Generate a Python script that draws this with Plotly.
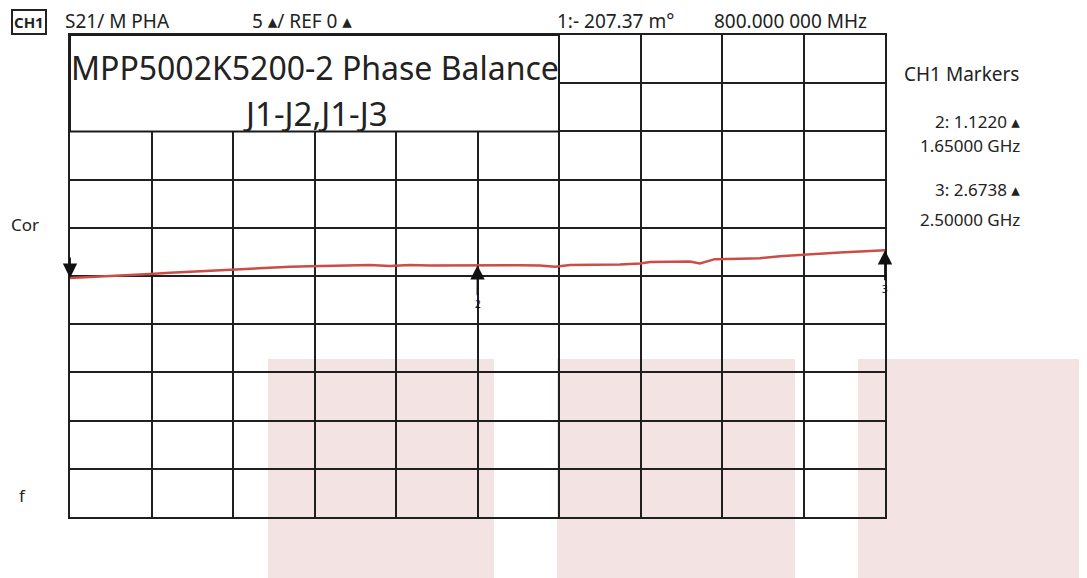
import plotly.graph_objects as go

# Data (frequency in GHz, phase difference in degrees)
freq_ghz = [0.800, 0.842, 0.883, 0.925, 0.967, 1.009, 1.050, 1.092, 1.134, 1.175,
            1.217, 1.259, 1.301, 1.342, 1.384, 1.426, 1.467, 1.509, 1.551, 1.593,
            1.650, 1.697, 1.739, 1.780, 1.812, 1.843, 1.906, 1.947, 1.989, 2.010,
            2.052, 2.093, 2.114, 2.145, 2.198, 2.239, 2.281, 2.323, 2.364, 2.406,
            2.448, 2.500]
phase_deg = [-0.21, -0.12, -0.05, 0.05, 0.20, 0.35, 0.45, 0.55, 0.70, 0.80,
             0.85, 0.95, 1.00, 1.05, 1.10, 1.15, 1.05, 1.15, 1.10, 1.12,
             1.12, 1.10, 1.12, 1.10, 0.95, 1.15, 1.15, 1.20, 1.30, 1.45,
             1.48, 1.50, 1.30, 1.75, 1.80, 1.85, 2.05, 2.20, 2.30, 2.45,
             2.55, 2.67]

marker_ids = ["1", "2", "3"]
marker_freq = [0.800, 1.650, 2.500]
marker_val = [-0.207, 1.1220, 2.6738]

header_texts = ["S21/ M PHA", "5 ▴/ REF 0 ▴", "1:- 207.37 m°", "800.000 000 MHz"]
marker_panel = ["CH1 Markers", "2: 1.1220 ▴", "1.65000 GHz", "3: 2.6738 ▴", "2.50000 GHz"]
title_lines = ["MPP5002K5200-2 Phase Balance", "J1-J2,J1-J3"]

X0, X1 = 0.8, 2.5
Y0, Y1 = -25, 25
DX = 0.17
# page offset of the figure (browser body margin)
OFF = 8
PL, PR, PT, PB = 70, 885, 35, 517   # plot area in page pixels
W, H = 1087 - OFF, 578 - OFF
L, T = PL - OFF, PT - OFF
R, B = W - (PR - OFF), H - (PB - OFF)

def px(x):
    return (x - PL) / (PR - PL)

def py(y):
    return (PB - y) / (PB - PT)

FONT = "Noto Sans, DejaVu Sans, sans-serif"
INK = "#222"

fig = go.Figure()
fig.add_trace(go.Scatter(x=freq_ghz, y=phase_deg, mode="lines",
                         line=dict(color="#cc4c46", width=2.5), hoverinfo="skip",
                         showlegend=False))

shapes = []
for (a, b) in [(268, 494), (557, 795), (858, 1087)]:
    shapes.append(dict(type="rect", xref="paper", yref="paper", x0=px(a), x1=px(b),
                       y0=py(578), y1=py(359), fillcolor="rgb(244,227,227)",
                       line=dict(width=0), layer="below"))
shapes.append(dict(type="rect", xref="x", yref="y", x0=X0, x1=X0 + 6 * DX,
                   y0=15, y1=25, fillcolor="white", line=dict(color="#1a1a1a", width=2),
                   layer="above"))
fig.update_layout(shapes=shapes)

ann = []
def text_at(x, y, t, size, xanchor="left", family=FONT, **kw):
    ann.append(dict(xref="paper", yref="paper", x=px(x), y=py(y), xanchor=xanchor,
                    yanchor="middle", text=t, showarrow=False,
                    font=dict(family=family, size=size, color=INK), **kw))

# title box text
text_at(315, 68, title_lines[0], 32, xanchor="center")
text_at(315, 114, title_lines[1], 33, xanchor="center")

# header
text_at(11, 22, "<b>CH1</b>", 15, bordercolor=INK, borderwidth=2, borderpad=1)
for t, x in zip(header_texts, [63, 250, 555, 712]):
    text_at(x, 21, t, 19)

# right panel
text_at(902, 74, marker_panel[0], 19)
for t, y in zip(marker_panel[1:], [121, 145, 190, 220]):
    text_at(1022, y, t, 17, xanchor="right")

# left labels
text_at(9, 224, "Cor", 17)
text_at(17, 495, "f", 17)

# markers
for i, (mid, f, v) in enumerate(zip(marker_ids, marker_freq, marker_val)):
    if i == 0:
        ann.append(dict(xref="x", yref="y", x=f, y=v, ax=0, ay=-22, text="",
                        showarrow=True, arrowhead=2, arrowsize=1.6, arrowwidth=1.8,
                        arrowcolor="#111"))
    else:
        ann.append(dict(xref="x", yref="y", x=f, y=v, ax=0, ay=30, text=mid,
                        showarrow=True, arrowhead=2, arrowsize=1.6, arrowwidth=1.8,
                        arrowcolor="#111", font=dict(family=FONT, size=10, color="#111"),
                        yanchor="top"))
fig.update_layout(annotations=ann)

axis_common = dict(showgrid=True, gridcolor="#1f1f1f", gridwidth=2, showline=True,
                   linecolor="#1f1f1f", linewidth=2, mirror=True, zeroline=False,
                   showticklabels=False, ticks="")
fig.update_xaxes(range=[X0, X1], tick0=X0, dtick=DX, **axis_common)
fig.update_yaxes(range=[Y0, Y1], tick0=0, dtick=5, **axis_common)

fig.update_layout(width=W, height=H, margin=dict(l=L, r=R, t=T, b=B),
                  paper_bgcolor="white", plot_bgcolor="rgba(0,0,0,0)",
                  showlegend=False)
fig.write_html("out.html")
